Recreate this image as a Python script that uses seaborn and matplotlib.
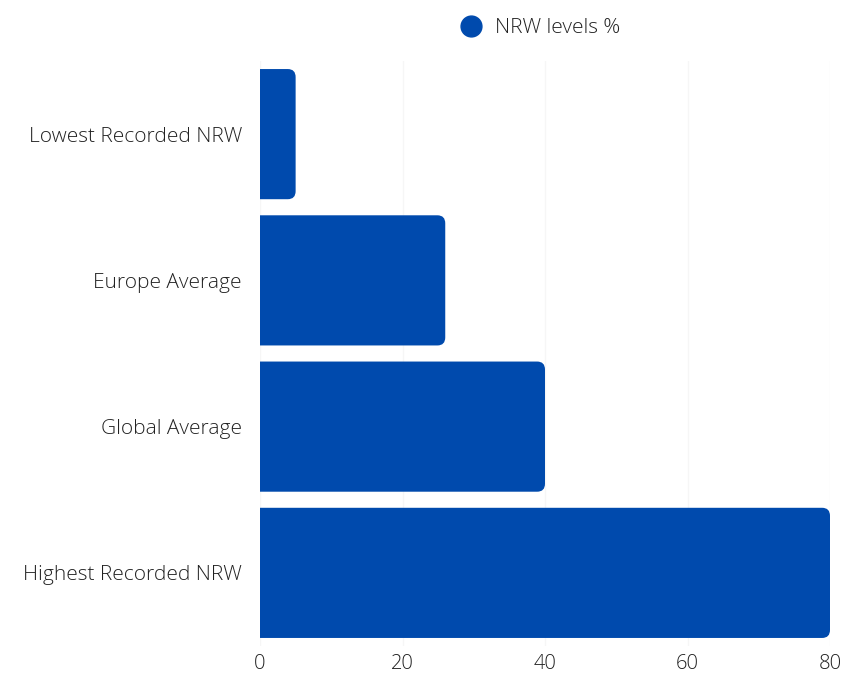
import pandas as pd
import seaborn as sns
import matplotlib.pyplot as plt
from matplotlib.patches import FancyBboxPatch
from matplotlib.lines import Line2D

categories = ['Lowest Recorded NRW', 'Europe Average', 'Global Average', 'Highest Recorded NRW']
nrw_levels = [5, 26, 40, 80]
x_ticks = [0, 20, 40, 60, 80]

bar_color = '#004aad'

sns.set_style('white')
plt.rcParams['font.family'] = ['Open Sans', 'DejaVu Sans']
plt.rcParams['font.weight'] = 'light'

df = pd.DataFrame({'category': categories, 'value': nrw_levels})

fig = plt.figure(figsize=(8.59, 6.77), dpi=100)
ax = fig.add_axes([260 / 859, 31 / 677, 570 / 859, 585 / 677])

sns.barplot(data=df, y='category', x='value', color=bar_color, width=0.89,
            saturation=1, ax=ax, zorder=2)

# swap plain bars for rounded ones
for p in list(ax.patches):
    x0, y0 = p.get_x(), p.get_y()
    w, h = p.get_width(), p.get_height()
    p.remove()
    pad = 1.1
    rb = FancyBboxPatch((x0 - 3, y0 + pad * 0.05), w + 3 - pad, h - 2 * pad * 0.05,
                        boxstyle=f'round,pad={pad},rounding_size={pad}',
                        mutation_aspect=0.05, fc=bar_color, ec='none', zorder=2)
    ax.add_patch(rb)

ax.set_xlim(0, 80)
ax.set_ylim(3.5, -0.5)
ax.set_xticks(x_ticks)
ax.xaxis.grid(True, color='#f6f6f6', linewidth=1, zorder=0)
ax.yaxis.grid(False)
sns.despine(ax=ax, left=True, bottom=True)
ax.set_xlabel('')
ax.set_ylabel('')
ax.tick_params(axis='y', length=0, pad=13, labelsize=15, labelcolor='#222222')
ax.tick_params(axis='x', length=0, pad=6, labelsize=14.5, labelcolor='#222222')

handle = Line2D([], [], marker='o', linestyle='none', markersize=15,
                markerfacecolor=bar_color, markeredgecolor=bar_color)
fig.legend([handle], ['NRW levels %'], loc='center', bbox_to_anchor=(535 / 859, 1 - 28 / 677),
           frameon=False, fontsize=15, handletextpad=0.15, labelcolor='#222222')

plt.savefig('out.png', dpi=100)
